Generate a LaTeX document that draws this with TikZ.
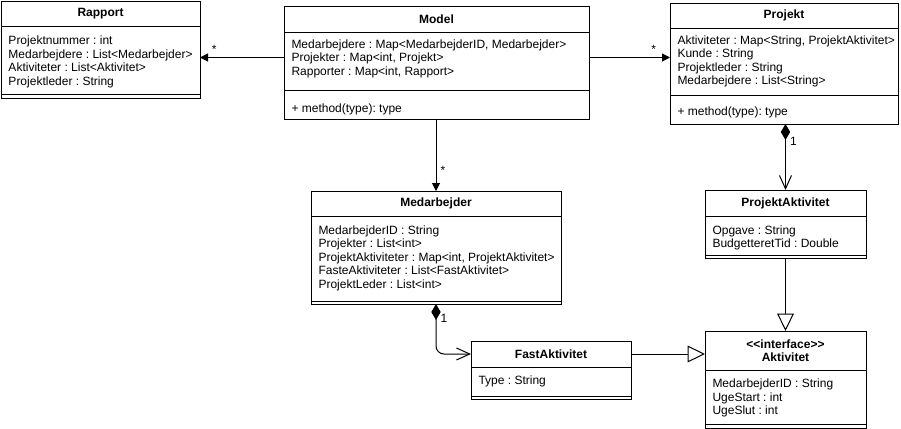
\documentclass[tikz,border=0pt]{standalone}
\usepackage{fontspec}
\setmainfont{Liberation Sans}
\frenchspacing
\usetikzlibrary{arrows.meta}
\tikzset{
	pics/umlclass/.style n args={7}{
		code = {
			\node[classbox, minimum width={#1*0.75pt}, minimum height={#2*0.75pt}] (-box) at (0, 0) {};
			\draw (0, #3) -- (#1, #3);
			\draw (0, #4) -- (#1, #4);
			\node[classtitle] (-title) at (#1/2, #3/2) {#5};
			\foreach \field [count=\i] in {#6}
				\node[field] (-attr\i) at (7, #3+#7+13.5*\i-13.5) {\field};
		}
	}
}

\begin{document}
\begin{tikzpicture}[x=0.75pt, y=-0.75pt, line width=0.75pt,
	every node/.style={font=\fontsize{9}{10.1}\selectfont},
	classbox/.style={draw, inner sep=0, outer sep=0, anchor=north west},
	classtitle/.style={font=\fontsize{9}{10.1}\selectfont\bfseries, align=center, inner sep=0},
	field/.style={anchor=west, inner sep=0, text height=6.45pt, text depth=0pt},
	mult/.style={inner sep=3pt},
	assoc/.style={-{Triangle[length=6pt, width=6pt]}},
	comp/.style={{Diamond[length=12pt, width=7pt]}-{Straight Barb[length=10pt, width=9pt]}},
	gen/.style={-{Triangle[open, length=13pt, width=12.5pt, fill=white]}}]

	\path[use as bounding box, fill=white] (0, 0) rectangle (901, 429);

	\pic (rapport) at (1, 1) {umlclass={199}{97}{25}{93}{Rapport}{{Projektnummer : int}, {Medarbejdere : List<Medarbejder>}, {Aktiviteter : List<Aktivitet>}, {Projektleder : String}}{14.5}};

	\pic (model) at (284, 6) {umlclass={305}{113}{26}{84}{Model}{{Medarbejdere : Map<MedarbejderID, Medarbejder>}, {Projekter : Map<int, Projekt>}, {Rapporter : Map<int, Rapport>}}{12}};
	\node[field] (model-method) at (291, 108) {+ method(type): type};

	\pic (projekt) at (670, 3) {umlclass={228}{121}{25}{92}{Projekt}{{Aktiviteter : Map<String, ProjektAktivitet>}, {Kunde : String}, {Projektleder : String}, {Medarbejdere : List<String>}}{12}};
	\node[field] (projekt-method) at (677, 111) {+ method(type): type};

	\pic (medarbejder) at (311, 191) {umlclass={250}{113}{25}{110}{Medarbejder}{{MedarbejderID : String}, {Projekter : List<int>}, {ProjektAktiviteter : Map<int, ProjektAktivitet>}, {FasteAktiviteter : List<FastAktivitet>}, {ProjektLeder : List<int>}}{14}};

	\pic (pakt) at (705, 190) {umlclass={161}{68}{26}{65}{ProjektAktivitet}{{Opgave : String}, {BudgetteretTid : Double}}{14}};

	\pic (fast) at (471, 341) {umlclass={160}{58}{26}{55}{FastAktivitet}{{Type : String}}{13}};

	\pic (aktivitet) at (705, 331) {umlclass={161}{97}{39}{93}{<{}<interface>{}>\\Aktivitet}{{MedarbejderID : String}, {UgeStart : int}, {UgeSlut : int}}{13.5}};

	% associations
	\draw[assoc] (model-box.west |- model-attr2) -- (rapport-box.east |- model-attr2) node[mult, pos=0.83, above] (rapport-mult) {*};
	\draw[assoc] (model-box.east |- model-attr2) -- (projekt-box.west |- model-attr2) node[mult, pos=0.8, above] (projekt-mult) {*};
	\draw[assoc] (medarbejder-box.north |- model-box.south) -- (medarbejder-box.north) node[mult, pos=0.71, right] (medarbejder-mult) {*};

	% compositions
	\draw[comp] (pakt-box.north |- projekt-box.south) -- (pakt-box.north) node[mult, pos=0.26, right] (pakt-mult) {1};
	\draw[comp, rounded corners=6] (medarbejder-box.south) |- (fast-box.west |- fast-title) node[mult, pos=0.14, right] (fast-mult) {1};

	% interface
	\draw[gen] (pakt-box.south) -- (aktivitet-box.north);
	\draw[gen] (fast-box.east |- fast-title) -- (aktivitet-box.west |- fast-title);

\end{tikzpicture}
\end{document}
